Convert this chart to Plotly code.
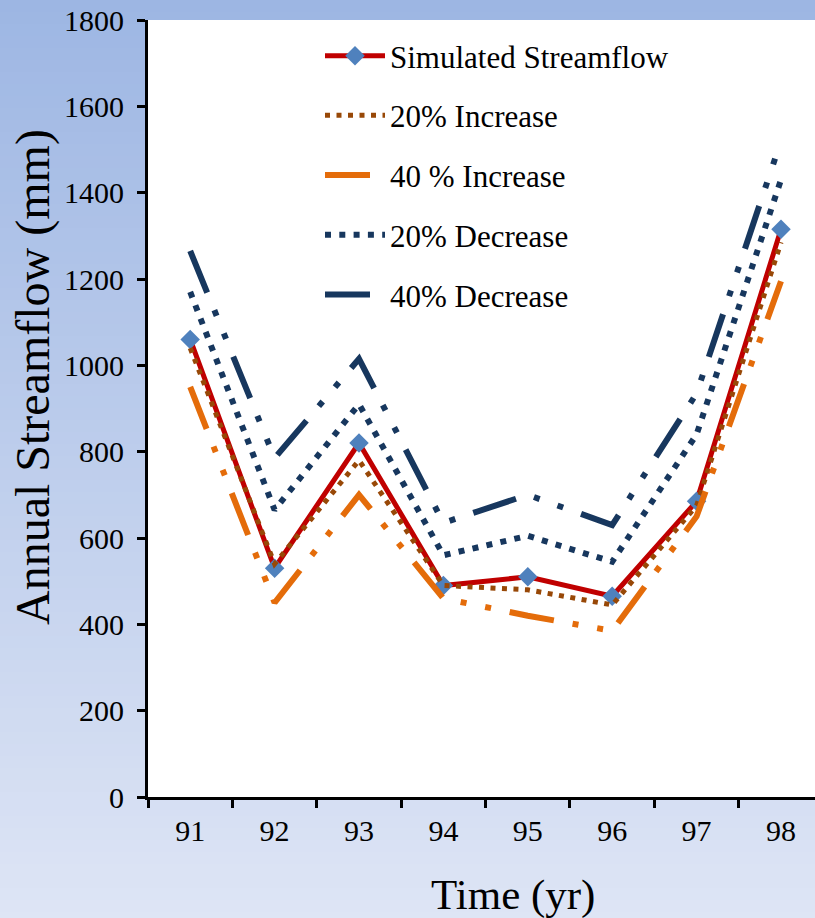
import plotly.graph_objects as go

# Annual streamflow (mm) for each year under the rainfall scenarios
years = [91, 92, 93, 94, 95, 96, 97, 98]
year_labels = ["91", "92", "93", "94", "95", "96", "97", "98"]
simulated = [1060, 530, 820, 490, 510, 465, 685, 1315]
increase_20 = [1040, 540, 780, 490, 480, 445, 675, 1285]
increase_40 = [950, 450, 700, 460, 420, 385, 650, 1195]
decrease_20 = [1170, 665, 910, 560, 605, 545, 840, 1430]
decrease_40 = [1265, 785, 1015, 635, 700, 630, 935, 1520]
y_ticks = [0, 200, 400, 600, 800, 1000, 1200, 1400, 1600, 1800]

FONT = "Liberation Serif, Times New Roman, serif"
W, H = 815, 918
ML, MR, MT, MB = 148, 0, 20, 121
PW, PH = W - ML - MR, H - MT - MB

RED = "#C00000"
DIAMOND = "#4F81BD"
BROWN = "#984807"
ORANGE = "#E46C0A"
NAVY = "#17375E"
DASH_DOT_DOT = "45px,19px,6px,19px,6px,19px"

fig = go.Figure()
fig.add_trace(go.Scatter(
    x=years, y=simulated, name="Simulated Streamflow", legendgroup="a",
    mode="lines+markers", line=dict(color=RED, width=5),
    marker=dict(symbol="diamond", size=15, color=DIAMOND),
))
fig.add_trace(go.Scatter(
    x=years, y=increase_20, name="20% Increase", legendgroup="b",
    mode="lines", line=dict(color=BROWN, width=5, dash="5px,6.5px"),
))
fig.add_trace(go.Scatter(
    x=years, y=increase_40, name="40 % Increase", legendgroup="c",
    mode="lines", line=dict(color=ORANGE, width=6, dash=DASH_DOT_DOT),
))
fig.add_trace(go.Scatter(
    x=years, y=decrease_20, name="20% Decrease", legendgroup="d",
    mode="lines", line=dict(color=NAVY, width=6, dash="6px,8.3px"),
))
fig.add_trace(go.Scatter(
    x=years, y=decrease_40, name="40% Decrease", legendgroup="e",
    mode="lines", line=dict(color=NAVY, width=6, dash=DASH_DOT_DOT),
))

# soft vertical blue gradient behind the plotting area
top_rgb = (157, 182, 227)
bot_rgb = (222, 229, 245)


def px_to_paper_x(px):
    return (px - ML) / PW


def px_to_paper_y(py):
    return (H - MB - py) / PH


def colour_at(py):
    t = py / H
    r, g, b = (round(a + (c - a) * t) for a, c in zip(top_rgb, bot_rgb))
    return f"rgb({r},{g},{b})"


shapes = []
step = 12
for py0 in range(0, H, step):
    py1 = min(py0 + step + 1, H)
    col = colour_at((py0 + py1) / 2)
    # left margin strip
    shapes.append(dict(type="rect", xref="paper", yref="paper", layer="below",
                       x0=px_to_paper_x(-2), x1=px_to_paper_x(ML),
                       y0=px_to_paper_y(py1), y1=px_to_paper_y(py0),
                       fillcolor=col, line=dict(width=0)))
    # top band above the plot
    if py0 < MT:
        shapes.append(dict(type="rect", xref="paper", yref="paper", layer="below",
                           x0=px_to_paper_x(ML - 1), x1=px_to_paper_x(W + 2),
                           y0=px_to_paper_y(min(py1, MT)), y1=px_to_paper_y(py0),
                           fillcolor=col, line=dict(width=0)))
    # bottom band below the plot
    if py1 > H - MB:
        shapes.append(dict(type="rect", xref="paper", yref="paper", layer="below",
                           x0=px_to_paper_x(ML - 1), x1=px_to_paper_x(W + 2),
                           y0=px_to_paper_y(py1), y1=px_to_paper_y(max(py0, H - MB)),
                           fillcolor=col, line=dict(width=0)))

# axis titles placed as annotations
annotations = [
    dict(text="Time (yr)", xref="paper", yref="paper",
         x=px_to_paper_x(513), y=px_to_paper_y(895), xanchor="center", yanchor="middle",
         showarrow=False, font=dict(family=FONT, size=43, color="black")),
    dict(text="Annual Streamflow (mm)", xref="paper", yref="paper",
         x=px_to_paper_x(33), y=px_to_paper_y(377), xanchor="center", yanchor="middle",
         textangle=-90, showarrow=False, font=dict(family=FONT, size=48, color="black")),
]

fig.update_layout(
    width=W, height=H,
    margin=dict(l=ML, r=MR, t=MT, b=MB, pad=0),
    paper_bgcolor=colour_at(H / 2),
    plot_bgcolor="white",
    font=dict(family=FONT, color="black", size=31),
    shapes=shapes,
    annotations=annotations,
    showlegend=True,
    legend=dict(
        x=px_to_paper_x(320), y=px_to_paper_y(29), xanchor="left", yanchor="top",
        bgcolor="rgba(0,0,0,0)", borderwidth=0, traceorder="grouped",
        tracegroupgap=16.4, font=dict(family=FONT, size=31, color="black"),
        itemwidth=60,
    ),
    xaxis=dict(
        range=[90.5, 90.5 + 7.903], tickvals=years, ticktext=year_labels,
        ticks="", showgrid=False, zeroline=False,
        showline=True, linewidth=3, linecolor="black",
        tickfont=dict(family=FONT, size=30), ticklabelstandoff=5,
        minor=dict(tickvals=[90.5 + i for i in range(9)], ticks="outside",
                   ticklen=8, tickwidth=3, tickcolor="black"),
    ),
    yaxis=dict(
        range=[0, 1800], tickvals=y_ticks, ticks="outside", ticklen=8,
        tickwidth=3, tickcolor="black", showgrid=False, zeroline=False,
        showline=True, linewidth=3, linecolor="black",
        tickfont=dict(family=FONT, size=30), ticklabelstandoff=7,
    ),
)

fig.write_html("out.html")
